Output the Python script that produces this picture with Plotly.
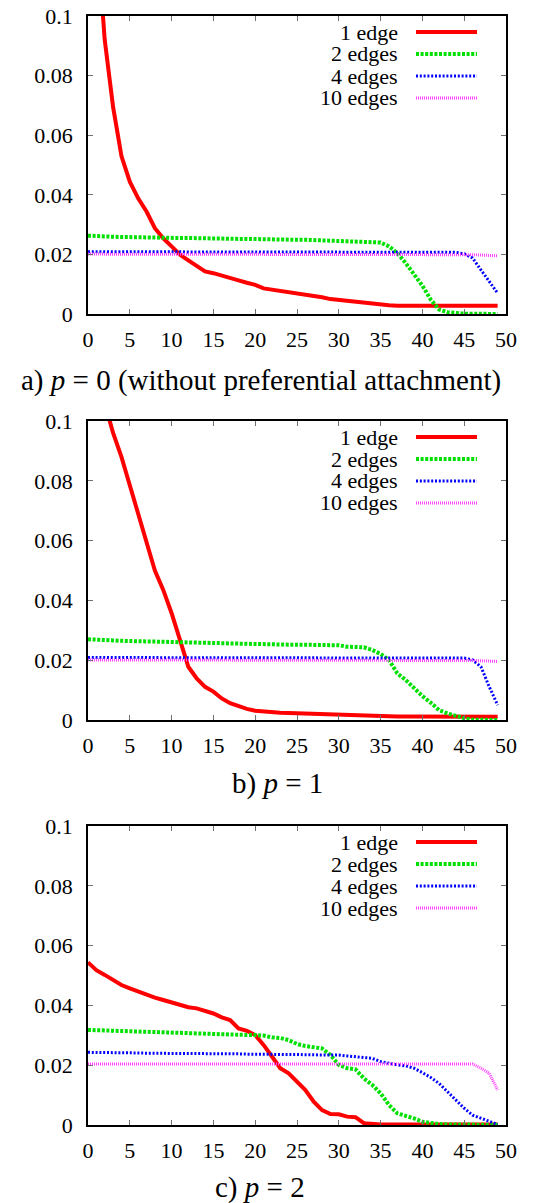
import plotly.graph_objects as go

x_vals = list(range(50))
series_names = ["1 edge", "2 edges", "4 edges", "10 edges"]

# Panel a) p = 0
a_1edge = [0.25, 0.13, 0.092, 0.0695, 0.053, 0.0444, 0.0388, 0.0344, 0.0288, 0.0254,
           0.0227, 0.0199, 0.018, 0.016, 0.0143, 0.0137, 0.0128, 0.012, 0.0113, 0.0105,
           0.0098, 0.0086, 0.0082, 0.0078, 0.0074, 0.0070, 0.0066, 0.0062, 0.0056, 0.0050,
           0.0047, 0.0043, 0.0040, 0.0036, 0.0033, 0.0031, 0.0029, 0.0028, 0.0028, 0.0028,
           0.0028, 0.0028, 0.0028, 0.0028, 0.0028, 0.0028, 0.0028, 0.0028, 0.0028, 0.0028]
a_2edges = [0.0263, 0.0261, 0.0260, 0.0259, 0.0258, 0.0258, 0.0257, 0.0257, 0.0256, 0.0256,
            0.0256, 0.0255, 0.0255, 0.0254, 0.0254, 0.0254, 0.0253, 0.0253, 0.0252, 0.0252,
            0.0251, 0.0251, 0.0250, 0.0250, 0.0250, 0.0249, 0.0249, 0.0248, 0.0248, 0.0247,
            0.0247, 0.0246, 0.0246, 0.0245, 0.0244, 0.0240, 0.0227, 0.0204, 0.0171, 0.0135,
            0.0095, 0.0048, 0.0015, 0.0006, 0.0003, 0.0001, 0.0001, 0.0, 0.0, 0.0]
a_4edges = [0.0209] * 10 + [0.0208] * 20 + [0.0207] * 15 + [0.0202, 0.0188, 0.0148, 0.0109, 0.0070]
a_10edges = [0.0201] * 45 + [0.0200, 0.0199, 0.0198, 0.0197, 0.0195]

# Panel b) p = 1
b_1edge = [0.135, 0.118, 0.106, 0.096, 0.088, 0.0786, 0.069, 0.059, 0.050, 0.0435,
           0.0357, 0.0268, 0.0178, 0.0139, 0.0111, 0.0095, 0.0072, 0.0056, 0.0045, 0.0037,
           0.0031, 0.0028, 0.0026, 0.0024, 0.0023, 0.0022, 0.0021, 0.0020, 0.0018, 0.0017,
           0.0017, 0.0016, 0.0015, 0.0014, 0.0013, 0.0013, 0.0013, 0.0012, 0.0012, 0.0012,
           0.0012, 0.0012, 0.0011, 0.0011, 0.0011, 0.0011, 0.0011, 0.0011, 0.0011, 0.0011]
b_2edges = [0.0270, 0.0268, 0.0267, 0.0266, 0.0265, 0.0264, 0.0264, 0.0263, 0.0262, 0.0262,
            0.0261, 0.0260, 0.0260, 0.0259, 0.0258, 0.0258, 0.0257, 0.0256, 0.0255, 0.0255,
            0.0254, 0.0254, 0.0253, 0.0253, 0.0252, 0.0252, 0.0251, 0.0251, 0.0251, 0.0250,
            0.0250, 0.0245, 0.0244, 0.0243, 0.0234, 0.0221, 0.0201, 0.0156, 0.0134, 0.0106,
            0.0080, 0.0058, 0.0033, 0.0022, 0.0013, 0.0006, 0.0001, 0.0, 0.0, 0.0]
b_4edges = [0.0209] * 10 + [0.0208] * 20 + [0.0207] * 16 + [0.0201, 0.0178, 0.0111, 0.0050]
b_10edges = [0.0201] * 45 + [0.0200, 0.0199, 0.0198, 0.0197, 0.0196]

# Panel c) p = 2
c_1edge = [0.0544, 0.0518, 0.0502, 0.0485, 0.0468, 0.0457, 0.0446, 0.0435, 0.0426, 0.0418,
           0.0410, 0.0399, 0.0394, 0.0390, 0.0382, 0.0373, 0.0360, 0.0351, 0.0323, 0.0315,
           0.0301, 0.0268, 0.0229, 0.0190, 0.0173, 0.0145, 0.0117, 0.0078, 0.0050, 0.0037,
           0.0036, 0.0028, 0.0026, 0.0006, 0.0003, 0.0002, 0.0002, 0.0002, 0.0002, 0.0002,
           0.0002, 0.0002, 0.0002, 0.0002, 0.0002, 0.0002, 0.0002, 0.0002, 0.0002, 0.0002]
c_2edges = [0.0318, 0.0317, 0.0316, 0.0315, 0.0313, 0.0312, 0.0311, 0.0311, 0.0310, 0.0310,
            0.0309, 0.0308, 0.0307, 0.0306, 0.0305, 0.0304, 0.0303, 0.0302, 0.0301, 0.0301,
            0.0301, 0.0299, 0.0293, 0.0291, 0.0284, 0.0271, 0.0264, 0.0260, 0.0256, 0.0234,
            0.0201, 0.0190, 0.0186, 0.0156, 0.0134, 0.0106, 0.0067, 0.0039, 0.0031, 0.0022,
            0.0011, 0.0006, 0.0003, 0.0002, 0.0001, 0.0001, 0.0001, 0.0001, 0.0001, 0.0001]
c_4edges = [0.0243, 0.0243, 0.0242, 0.0242, 0.0241, 0.0241, 0.0241, 0.0240, 0.0240, 0.0240,
            0.0240, 0.0239, 0.0239, 0.0239, 0.0239, 0.0238, 0.0238, 0.0238, 0.0238, 0.0237,
            0.0237, 0.0237, 0.0236, 0.0236, 0.0236, 0.0235, 0.0235, 0.0235, 0.0234, 0.0234,
            0.0234, 0.0231, 0.0229, 0.0226, 0.0223, 0.0212, 0.0206, 0.0201, 0.0198, 0.0190,
            0.0175, 0.0159, 0.0139, 0.0111, 0.0084, 0.0056, 0.0033, 0.0022, 0.0011, 0.0002]
c_10edges = [0.0204] * 47 + [0.0190, 0.0173, 0.0117]

panels = [
    (a_1edge, a_2edges, a_4edges, a_10edges),
    (b_1edge, b_2edges, b_4edges, b_10edges),
    (c_1edge, c_2edges, c_4edges, c_10edges),
]
captions = ["a) <i>p</i> = 0 (without preferential attachment)", "b) <i>p</i> = 1", "c) <i>p</i> = 2"]

y_ticks = [0, 0.02, 0.04, 0.06, 0.08, 0.1]
y_ticktext = ["0", "0.02", "0.04", "0.06", "0.08", "0.1"]
x_ticks = list(range(0, 51, 5))

W, H = 557, 1203
FONT = "Liberation Serif"

styles = [
    dict(color="#ff0000", width=4, dash="solid"),
    dict(color="#00e000", width=4, dash="3px,1.6px"),
    dict(color="#0000ff", width=3, dash="2px,1.8px"),
    dict(color="#ff40ff", width=3, dash="1px,1px"),
]

# layout geometry in window pixels
plot_left, plot_right = 88, 506
panel_px = [(16, 314), (421, 720), (826, 1125)]
caption_px = [(261, 380), (277, 783), (260, 1187)]


def px_x(v):
    return v / W


def px_y(v):
    return 1 - v / H


fig = go.Figure()
layout = dict(
    template="none",
    width=W, height=H, margin=dict(l=0, r=0, t=0, b=0, pad=0, autoexpand=False),
    paper_bgcolor="white", plot_bgcolor="white", showlegend=False,
    font=dict(family=FONT, color="black", size=22),
)
shapes = []
annotations = []

for i, series in enumerate(panels):
    sfx = "" if i == 0 else str(i + 1)
    xa = "x" + sfx
    ya = "y" + sfx
    top, bot = panel_px[i]
    xdom = [px_x(plot_left), px_x(plot_right)]
    ydom = [px_y(bot), px_y(top)]
    axis_common = dict(
        automargin=False, ticklabeloverflow="allow",
        showline=True, linecolor="black", linewidth=1.5, mirror="allticks",
        ticks="inside", ticklen=5, tickcolor="#707070", tickwidth=1,
        showgrid=False, zeroline=False,
        tickfont=dict(family=FONT, size=22, color="black"),
    )
    layout["xaxis" + sfx] = dict(domain=xdom, range=[0, 50], tickvals=x_ticks,
                                 anchor=ya, ticklabelstandoff=5, **axis_common)
    layout["yaxis" + sfx] = dict(domain=ydom, range=[0, 0.1], tickvals=y_ticks,
                                 ticktext=y_ticktext, anchor=xa, ticklabelstandoff=9,
                                 **axis_common)
    for name, vals, st in zip(series_names, series, styles):
        fig.add_trace(go.Scatter(
            x=x_vals, y=vals, mode="lines", name=name, xaxis=xa, yaxis=ya,
            line=dict(color=st["color"], width=st["width"], dash=st["dash"]),
        ))
    # gnuplot-style legend: text right-aligned, sample line on right
    for k, (name, st) in enumerate(zip(series_names, styles)):
        yp = px_y(top + 16 + 22 * k)
        annotations.append(dict(
            x=px_x(400), y=yp, xref="paper", yref="paper", text=name, showarrow=False,
            xanchor="right", yanchor="middle", font=dict(family=FONT, size=22, color="black"),
        ))
        shapes.append(dict(
            type="line", xref="paper", yref="paper", x0=px_x(416), x1=px_x(477), y0=yp, y1=yp,
            line=dict(color=st["color"], width=st["width"], dash=st["dash"]),
        ))
    cx, cy = caption_px[i]
    annotations.append(dict(
        x=px_x(cx), y=px_y(cy), xref="paper", yref="paper", text=captions[i],
        showarrow=False, xanchor="center", yanchor="middle",
        font=dict(family=FONT, size=29, color="black"),
    ))

layout["shapes"] = shapes
layout["annotations"] = annotations
fig.update_layout(**layout)
# remove the default page margin so the figure sits at the window's top-left corner
fig.write_html("out.html", config={"displayModeBar": False},
               post_script="document.body.style.margin='0';")
